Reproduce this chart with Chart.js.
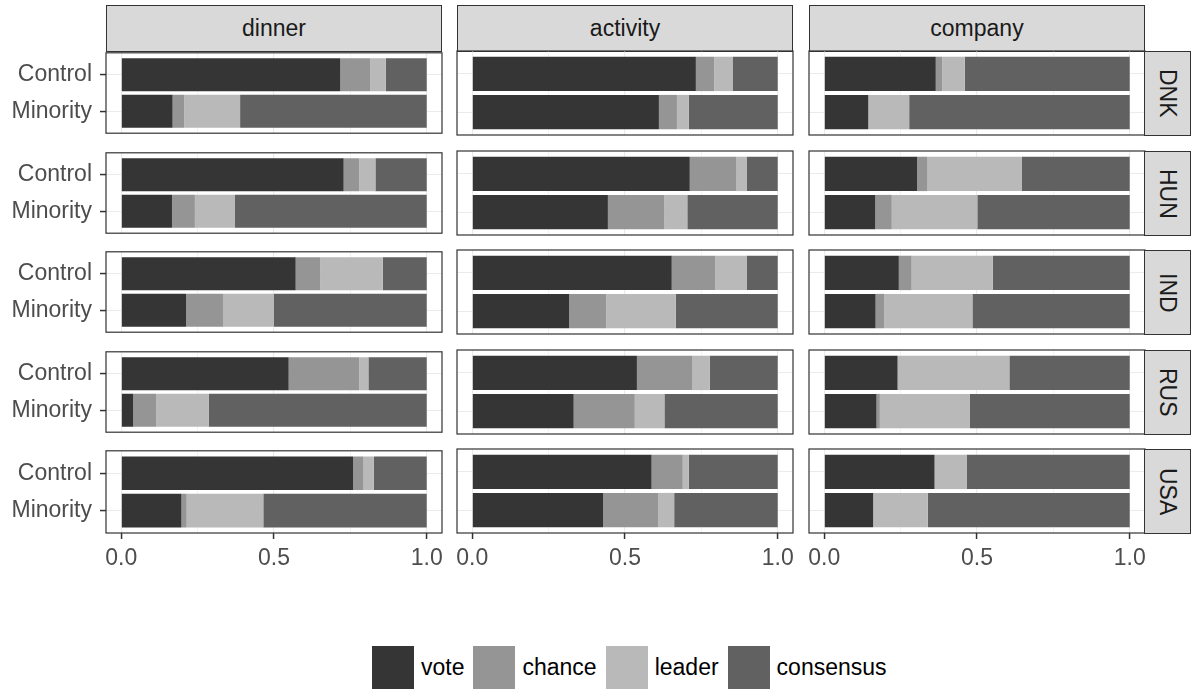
<!DOCTYPE html>
<html>
<head>
<meta charset="utf-8">
<script src="https://cdn.jsdelivr.net/npm/chart.js@4.4.1/dist/chart.umd.min.js"></script>
<style>
  body { margin: 0; width: 1196px; height: 690px; background: #fff; position: relative; overflow: hidden;
         font-family: 'Liberation Sans', Arial, sans-serif; }
  canvas { position: absolute; }
  .strip { position: absolute; box-sizing: border-box; background: #d9d9d9; border: 1px solid #333;
           color: #1a1a1a; font-size: 23px; display: flex; align-items: center; justify-content: center; }
  .strip.right { writing-mode: vertical-rl; }
  #legend { position: absolute; left: 372px; top: 646px; display: flex; align-items: center; font-size: 23px; color: #000; }
  #legend .key { width: 42px; height: 43px; margin-right: 7px; }
  #legend .lab { margin-right: 9px; }
</style>
</head>
<body>
<div id="legend"></div>
<script>
// facets, rows and groups
const facets = ['dinner', 'activity', 'company'];
const countries = ['DNK', 'HUN', 'IND', 'RUS', 'USA'];
const groups = ['Control', 'Minority'];
const methods = ['vote', 'chance', 'leader', 'consensus'];
const methodColors = ['#353535', '#959595', '#bab9ba', '#616161'];
const xTickLabels = ['0.0', '0.5', '1.0'];

// shares, order: DNK C, DNK M, HUN C, HUN M, IND C, IND M, RUS C, RUS M, USA C, USA M
const dinnerVote      = [0.717, 0.168, 0.728, 0.166, 0.571, 0.212, 0.548, 0.039, 0.759, 0.197];
const dinnerChance    = [0.098, 0.038, 0.051, 0.075, 0.081, 0.121, 0.231, 0.075, 0.034, 0.017];
const dinnerLeader    = [0.051, 0.183, 0.053, 0.130, 0.204, 0.167, 0.030, 0.172, 0.034, 0.251];
const dinnerConsensus = [0.134, 0.611, 0.168, 0.629, 0.144, 0.500, 0.191, 0.714, 0.173, 0.535];

const activityVote      = [0.732, 0.611, 0.712, 0.444, 0.653, 0.317, 0.539, 0.332, 0.587, 0.428];
const activityChance    = [0.060, 0.059, 0.153, 0.185, 0.143, 0.122, 0.182, 0.200, 0.102, 0.180];
const activityLeader    = [0.060, 0.039, 0.033, 0.075, 0.102, 0.227, 0.057, 0.097, 0.020, 0.053];
const activityConsensus = [0.148, 0.291, 0.102, 0.296, 0.102, 0.334, 0.222, 0.371, 0.291, 0.339];

const companyVote      = [0.365, 0.144, 0.304, 0.167, 0.244, 0.168, 0.240, 0.171, 0.361, 0.160];
const companyChance    = [0.021, 0.000, 0.034, 0.054, 0.042, 0.028, 0.000, 0.011, 0.000, 0.000];
const companyLeader    = [0.074, 0.134, 0.308, 0.280, 0.266, 0.289, 0.366, 0.295, 0.105, 0.179];
const companyConsensus = [0.540, 0.722, 0.354, 0.499, 0.448, 0.515, 0.394, 0.523, 0.534, 0.661];

const facetValues = {
  dinner: [dinnerVote, dinnerChance, dinnerLeader, dinnerConsensus],
  activity: [activityVote, activityChance, activityLeader, activityConsensus],
  company: [companyVote, companyChance, companyLeader, companyConsensus]
};

// layout of the panel grid
const colLefts = [106, 457, 809];
const PW = 336, PH = 84, M = 20;
const rowTop = r => Math.round(51 + r * 99.6);
const axisFont = { family: "'Liberation Sans', Arial, sans-serif", size: 23 };
const isMinor = ctx => ctx.tick && (ctx.tick.value === 0.25 || ctx.tick.value === 0.75);

// draws the dark frame round each panel
const panelBorder = {
  id: 'panelBorder',
  afterDraw(chart) {
    const a = chart.chartArea, ctx = chart.ctx;
    ctx.save();
    ctx.strokeStyle = '#333';
    ctx.lineWidth = 1.2;
    ctx.strokeRect(a.left, a.top, a.right - a.left, a.bottom - a.top);
    ctx.restore();
  }
};

function addStrip(text, left, top, w, h, right) {
  const d = document.createElement('div');
  d.className = 'strip' + (right ? ' right' : '');
  d.style.left = left + 'px'; d.style.top = top + 'px';
  d.style.width = w + 'px'; d.style.height = h + 'px';
  d.textContent = text;
  document.body.appendChild(d);
}

facets.forEach((facet, c) => {
  addStrip(facet, colLefts[c], 5, PW, 47, false);
  countries.forEach((country, r) => {
    const panelLeft = colLefts[c], panelTop = rowTop(r);
    const first = c === 0, bottom = r === countries.length - 1;
    const canvasLeft = first ? 0 : panelLeft - M;
    const yWidth = first ? panelLeft : 0;
    const xHeight = bottom ? 48 : 0;
    const canvas = document.createElement('canvas');
    canvas.width = panelLeft + PW + M - canvasLeft;
    canvas.height = M + PH + xHeight + (bottom ? 0 : M);
    canvas.style.left = canvasLeft + 'px';
    canvas.style.top = (panelTop - M) + 'px';
    document.body.appendChild(canvas);

    const vals = facetValues[facet];
    const datasets = methods.map((m, i) => ({
      label: m,
      data: groups.map((g, j) => ({ x: vals[i][r * 2 + j], y: j + 1 })),
      backgroundColor: methodColors[i],
      borderWidth: 0,
      barPercentage: 0.9,
      categoryPercentage: 1
    }));

    new Chart(canvas, {
      type: 'bar',
      data: { datasets },
      plugins: [panelBorder],
      options: {
        indexAxis: 'y',
        responsive: false,
        animation: false,
        layout: { padding: { left: first ? 0 : M, right: M, top: M, bottom: bottom ? 0 : M } },
        plugins: { legend: { display: false }, tooltip: { enabled: false } },
        scales: {
          x: {
            type: 'linear', stacked: true, min: -0.05, max: 1.05, offset: false,
            afterBuildTicks: ax => { ax.ticks = [0, 0.25, 0.5, 0.75, 1].map(v => ({ value: v })); },
            afterFit: ax => { ax.height = xHeight; },
            border: { display: false },
            grid: {
              color: '#ebebeb', offset: false,
              lineWidth: ctx => isMinor(ctx) ? 0.6 : 1.1,
              drawTicks: bottom, tickLength: 6, tickWidth: 1.5,
              tickColor: ctx => isMinor(ctx) ? 'rgba(0,0,0,0)' : '#333'
            },
            ticks: {
              display: bottom, padding: 6, color: '#4d4d4d', font: axisFont, maxRotation: 0, autoSkip: false,
              callback: v => v === 0 ? xTickLabels[0] : v === 0.5 ? xTickLabels[1] : v === 1 ? xTickLabels[2] : ''
            }
          },
          y: {
            type: 'linear', stacked: true, reverse: true, min: 0.4, max: 2.6, offset: false,
            afterBuildTicks: ax => { ax.ticks = groups.map((g, j) => ({ value: j + 1 })); },
            afterFit: ax => { ax.width = yWidth; },
            border: { display: false },
            grid: { color: '#ebebeb', offset: false, lineWidth: 1.1, drawTicks: first, tickLength: 6, tickWidth: 1.5, tickColor: '#333' },
            ticks: {
              display: first, padding: 8, color: '#4d4d4d', font: axisFont,
              callback: v => groups[v - 1]
            }
          }
        }
      }
    });

    if (c === facets.length - 1) addStrip(country, panelLeft + PW - 1, panelTop, 47, PH + 1, true);
  });
});

// legend below the panels
const legend = document.getElementById('legend');
methods.forEach((m, i) => {
  const k = document.createElement('div');
  k.className = 'key';
  k.style.background = methodColors[i];
  const t = document.createElement('div');
  t.className = 'lab';
  t.textContent = m;
  legend.appendChild(k);
  legend.appendChild(t);
});
</script>
</body>
</html>
